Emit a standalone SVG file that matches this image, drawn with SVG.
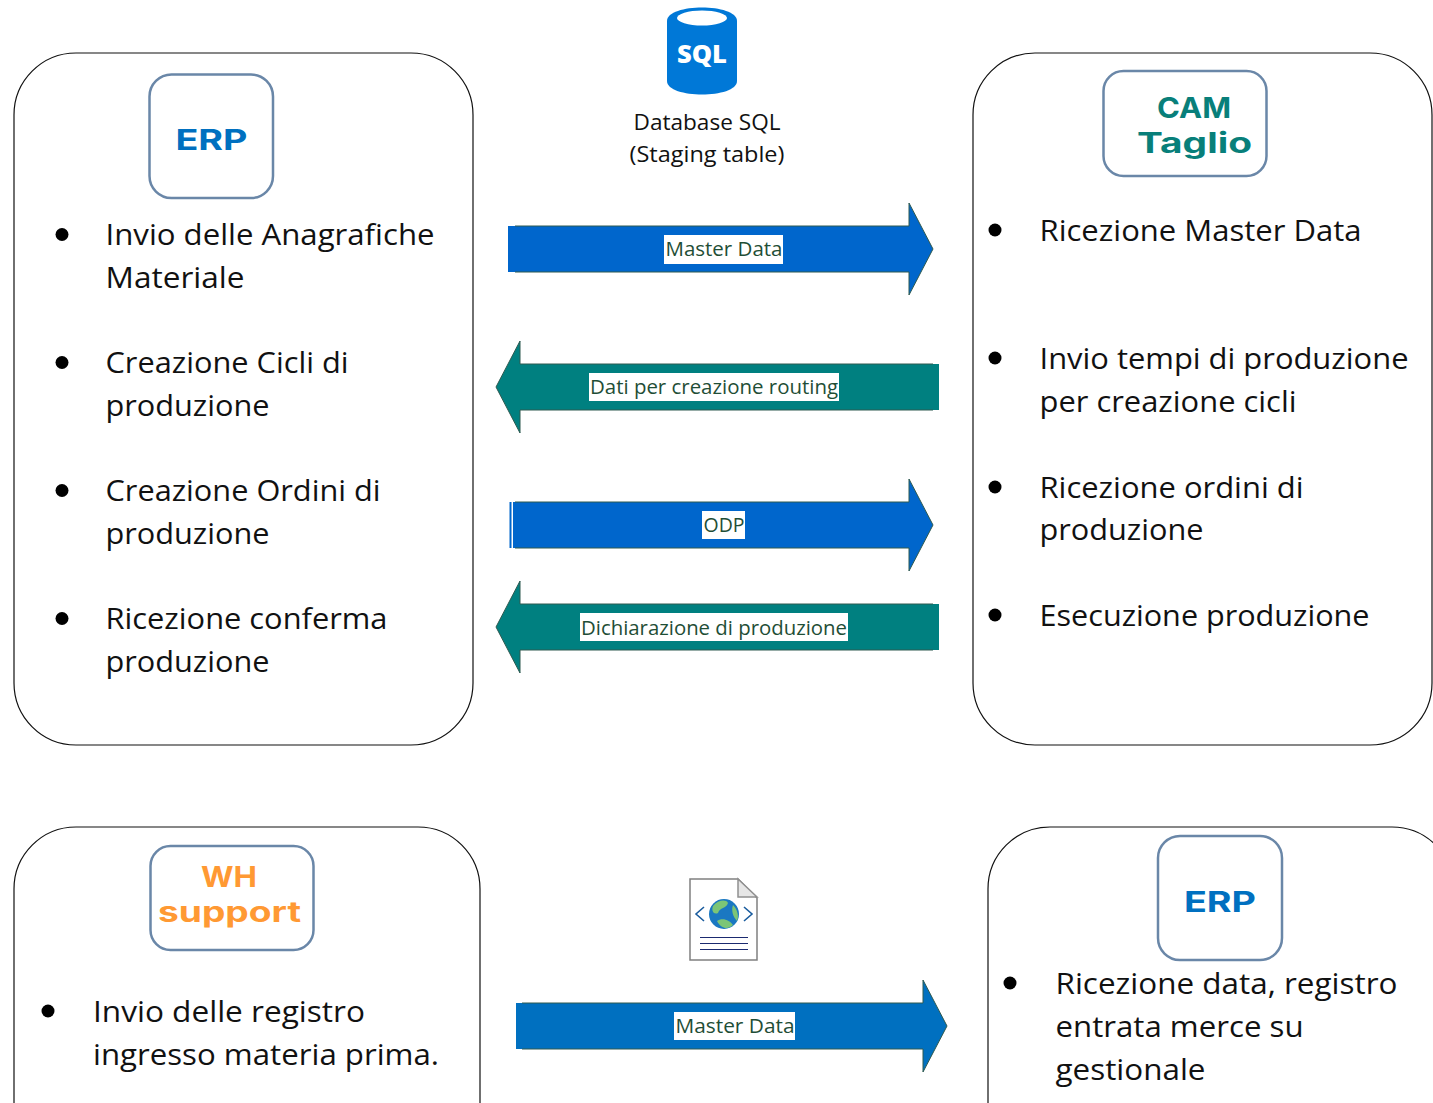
<svg xmlns="http://www.w3.org/2000/svg" width="1433" height="1103" viewBox="0 0 1433 1103">
<style>
text{font-family:"Open Sans","Noto Sans","Liberation Sans",sans-serif;fill:#111}
.b{font-size:30px}
.c{font-size:22px;text-anchor:middle}
.l{font-size:20px;fill:#1f4e36;text-anchor:middle}
.panel{fill:#fff;stroke:#111;stroke-width:1.2}
.logo{fill:#fff;stroke:#6a87a8;stroke-width:2.5}
.t{font-family:Inter,"Liberation Sans",sans-serif;font-weight:700;font-size:28px;text-anchor:middle}
.lab{fill:#fff}
.arr{stroke:#2f5a50;stroke-width:1;fill:none}
</style>
<defs>
<circle id="dot" r="6.5" fill="#000"/>
</defs>
<rect width="1433" height="1103" fill="#fff"/>
<g id="panel-erp"><rect class="panel" x="14" y="53" width="459" height="692" rx="62"/>
<use href="#dot" x="62" y="234.5"/><use href="#dot" x="62" y="362.5"/><use href="#dot" x="62" y="490.5"/><use href="#dot" x="62" y="618.5"/>
<text class="b" x="105.5" y="244.5" textLength="329" lengthAdjust="spacingAndGlyphs">Invio delle Anagrafiche</text>
<text class="b" x="105.5" y="287.5" textLength="139" lengthAdjust="spacingAndGlyphs">Materiale</text>
<text class="b" x="105.5" y="372.5" textLength="243" lengthAdjust="spacingAndGlyphs">Creazione Cicli di</text>
<text class="b" x="105.5" y="415.5" textLength="164" lengthAdjust="spacingAndGlyphs">produzione</text>
<text class="b" x="105.5" y="500.5" textLength="275" lengthAdjust="spacingAndGlyphs">Creazione Ordini di</text>
<text class="b" x="105.5" y="543.5" textLength="164" lengthAdjust="spacingAndGlyphs">produzione</text>
<text class="b" x="105.5" y="628.5" textLength="282" lengthAdjust="spacingAndGlyphs">Ricezione conferma</text>
<text class="b" x="105.5" y="671.5" textLength="164" lengthAdjust="spacingAndGlyphs">produzione</text>
</g>
<g id="logo-erp"><rect class="logo" x="149.500" y="74.500" width="123.500" height="123.500" rx="22"/>
<text class="t" x="211.500" y="150" textLength="72" lengthAdjust="spacingAndGlyphs" style="fill:#0070c0">ERP</text></g>
<g id="panel-cam"><rect class="panel" x="973" y="53" width="459" height="692" rx="62"/>
<use href="#dot" x="995" y="230"/><use href="#dot" x="995" y="358"/><use href="#dot" x="995" y="487"/><use href="#dot" x="995" y="615"/>
<text class="b" x="1039.500" y="241" textLength="322" lengthAdjust="spacingAndGlyphs">Ricezione Master Data</text>
<text class="b" x="1039.500" y="369" textLength="369" lengthAdjust="spacingAndGlyphs">Invio tempi di produzione</text>
<text class="b" x="1039.500" y="412" textLength="257" lengthAdjust="spacingAndGlyphs">per creazione cicli</text>
<text class="b" x="1039.500" y="498" textLength="264" lengthAdjust="spacingAndGlyphs">Ricezione ordini di</text>
<text class="b" x="1039.500" y="540" textLength="164" lengthAdjust="spacingAndGlyphs">produzione</text>
<text class="b" x="1039.500" y="626" textLength="330" lengthAdjust="spacingAndGlyphs">Esecuzione produzione</text>
</g>
<g id="logo-cam"><rect class="logo" x="1103.500" y="71" width="163" height="105" rx="20"/>
<text class="t" x="1194" y="118" textLength="74" lengthAdjust="spacingAndGlyphs" style="fill:#087f7a">CAM</text>
<text class="t" x="1194.500" y="153" textLength="115" lengthAdjust="spacingAndGlyphs" style="fill:#087f7a">Taglio</text></g>
<g id="sql">
<path d="M667 21C667 3 737 3 737 21V81C737 99 667 99 667 81Z" fill="#0078d7"/>
<ellipse cx="702" cy="18" rx="25" ry="7.500" fill="#fff"/>
<text x="702" y="63" text-anchor="middle" textLength="50" lengthAdjust="spacingAndGlyphs" style="fill:#fff;font-family:'Open Sans',sans-serif;font-weight:800;font-size:25px">SQL</text>
<text class="c" x="707" y="130" textLength="147" lengthAdjust="spacingAndGlyphs">Database SQL</text>
<text class="c" x="707" y="162" textLength="155" lengthAdjust="spacingAndGlyphs">(Staging table)</text>
</g>
<g id="connectors">
<g id="c1"><path d="M508 226H909V203L933 249L909 295V272H508Z" fill="#0066cc"/><path class="arr" d="M515 226H909V203L933 249L909 295V272H515"/>
<rect class="lab" x="664" y="235" width="119" height="29"/><text class="l" x="724" y="256" textLength="117" lengthAdjust="spacingAndGlyphs">Master Data</text></g>
<g id="c2"><path d="M939 364H520V341L496 387L520 433V410H939Z" fill="#008080"/><path class="arr" d="M933 364H520V341L496 387L520 433V410H933"/>
<rect class="lab" x="589" y="373" width="250" height="28"/><text class="l" x="714" y="394" textLength="248" lengthAdjust="spacingAndGlyphs">Dati per creazione routing</text></g>
<g id="c3"><path d="M513 502H909V479L933 525L909 571V548H513Z" fill="#0066cc"/><rect x="509.500" y="502" width="2" height="46" fill="#0066cc"/><path class="arr" d="M515 502H909V479L933 525L909 571V548H515"/>
<rect class="lab" x="702" y="511" width="43" height="28"/><text class="l" x="724" y="532" textLength="41" lengthAdjust="spacingAndGlyphs">ODP</text></g>
<g id="c4"><path d="M939 604H520V581L496 627L520 673V650H939Z" fill="#008080"/><path class="arr" d="M933 604H520V581L496 627L520 673V650H933"/>
<rect class="lab" x="580" y="613" width="268" height="28"/><text class="l" x="714" y="634.500" textLength="266" lengthAdjust="spacingAndGlyphs">Dichiarazione di produzione</text></g>
<g id="c5"><path d="M516 1003H923V980L947 1026L923 1072V1049H516Z" fill="#0070c0"/><path class="arr" d="M522 1003H923V980L947 1026L923 1072V1049H522"/>
<rect class="lab" x="674" y="1012" width="121" height="28"/><text class="l" x="735" y="1033" textLength="119" lengthAdjust="spacingAndGlyphs">Master Data</text></g>
</g>
<g id="panel-wh"><rect class="panel" x="14" y="827" width="466" height="340" rx="62"/>
<use href="#dot" x="48" y="1011"/>
<text class="b" x="93" y="1021.500" textLength="272" lengthAdjust="spacingAndGlyphs">Invio delle registro</text>
<text class="b" x="93" y="1064.500" textLength="346" lengthAdjust="spacingAndGlyphs">ingresso materia prima.</text>
</g>
<g id="logo-wh"><rect class="logo" x="150.500" y="846" width="163" height="104" rx="20"/>
<text class="t" x="229" y="887" textLength="56" lengthAdjust="spacingAndGlyphs" style="fill:#ff9933">WH</text>
<text class="t" x="229.500" y="922" textLength="143" lengthAdjust="spacingAndGlyphs" style="fill:#ff9933">support</text></g>
<g id="panel-erp2"><rect class="panel" x="988" y="827" width="466" height="340" rx="62"/>
<use href="#dot" x="1010" y="983"/>
<text class="b" x="1055.500" y="994" textLength="342" lengthAdjust="spacingAndGlyphs">Ricezione data, registro</text>
<text class="b" x="1055.500" y="1037" textLength="248" lengthAdjust="spacingAndGlyphs">entrata merce su</text>
<text class="b" x="1055.500" y="1080" textLength="150" lengthAdjust="spacingAndGlyphs">gestionale</text>
</g>
<g id="logo-erp2"><rect class="logo" x="1158" y="836" width="124" height="124" rx="22"/>
<text class="t" x="1220" y="912" textLength="72" lengthAdjust="spacingAndGlyphs" style="fill:#0070c0">ERP</text></g>
<g id="doc">
<path d="M690 879H738L757 898V960H690Z" fill="#fff" stroke="#808080" stroke-width="1.500"/>
<path d="M738 879V897H757Z" fill="#e6e6e6" stroke="#909090" stroke-width="1.500"/>
<circle cx="724" cy="914" r="15" fill="#1a78c2"/>
<path d="M713 906C718 900 726 899 728 903C726 909 720 907 718 913C714 915 711 911 713 906Z M717 921C722 917 730 920 733 925C728 930 721 929 717 921Z M733 905C738 910 739 917 737 921C733 917 731 910 733 905Z" fill="#7cc576"/>
<path d="M704 907L696 914L704 921M744 907L752 914L744 921" fill="none" stroke="#1a5c9e" stroke-width="1.600"/>
<path d="M700 937.500H748M700 943.500H748M700 949.500H748" stroke="#1b2a70" stroke-width="1.200"/>
</g>
</svg>
